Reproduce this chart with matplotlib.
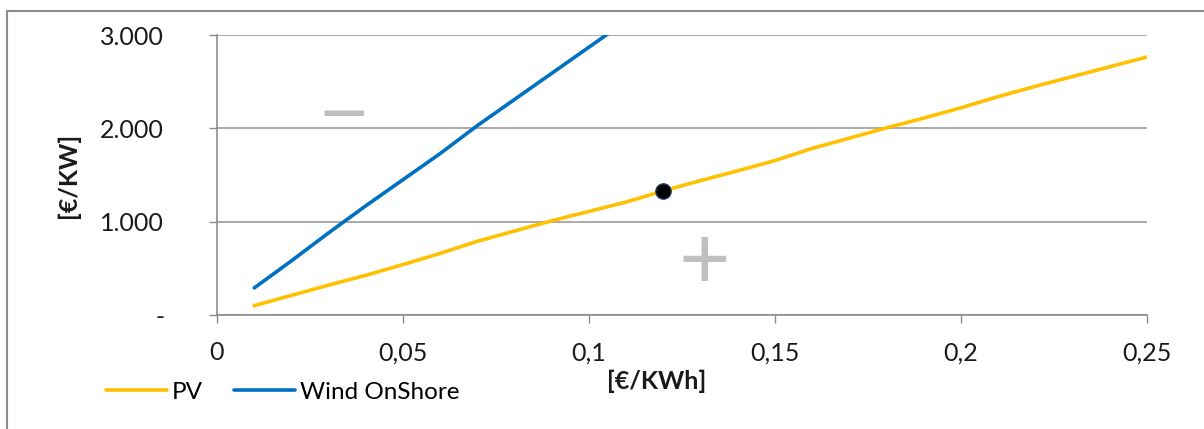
import numpy
from matplotlib import pyplot
from matplotlib.patches import Rectangle

pyplot.rcParams['font.family'] = ['Lato', 'DejaVu Sans']

# data
price = numpy.round(numpy.arange(0.01, 0.2501, 0.01), 2)
pv = [100, 210, 320, 425, 540, 660, 790, 900, 1010, 1110, 1210, 1330, 1440,
      1545, 1655, 1785, 1895, 2005, 2110, 2220, 2340, 2450, 2555, 2660, 2765]
windPrice = [0.01, 0.02, 0.03, 0.04, 0.05, 0.06, 0.07, 0.08, 0.09, 0.10, 0.11]
wind = [290, 580, 880, 1170, 1450, 1730, 2030, 2310, 2590, 2870, 3150]
point = (0.12, 1330)

xticks = [0, 0.05, 0.1, 0.15, 0.2, 0.25]
xticklabels = ['0', '0,05', '0,1', '0,15', '0,2', '0,25']
yticks = [0, 1000, 2000, 3000]
yticklabels = ['-', '1.000', '2.000', '3.000']

fig = pyplot.figure(figsize=(12.04, 4.29), dpi=100)

# outer chart border (top and left only visible)
fig.patches.append(Rectangle((7/1204, -0.1), 1.2, 1 - 11/429 + 0.1,
                             transform=fig.transFigure, fill=False,
                             ec='#8c8c8c', lw=1.5))

ax = fig.add_axes([217/1204, 114/429, 930/1204, 280/429])

ax.plot(price, pv, color='#FFC000', lw=2.6, label='PV', zorder=3,
        solid_capstyle='round')
ax.plot(windPrice, wind, color='#0070C0', lw=2.6, label='Wind OnShore',
        zorder=3, solid_capstyle='round')
ax.plot(*point, 'o', ms=11, mfc='black', mec='#1f3a5a', mew=1, zorder=4)

ax.text(0.034, 2150, '\u2014', color='#bfbfbf', fontsize=42,
        fontweight='bold', ha='center', va='center')
ax.text(0.131, 545, '+', color='#bfbfbf', fontsize=64,
        ha='center', va='center')

ax.set_xlim(0, 0.25)
ax.set_ylim(0, 3000)
ax.set_xticks(xticks)
ax.set_xticklabels(xticklabels)
ax.set_yticks(yticks)
ax.set_yticklabels(yticklabels)
ax.tick_params(labelsize=18, length=6, width=1, color='#8c8c8c',
               labelcolor='#1a1a1a')
ax.tick_params(axis='x', pad=13)
ax.tick_params(axis='y', pad=32)
ax.yaxis.grid(True, color='#9c9c9c', lw=1.2, zorder=0)
for side in ['top', 'right']:
    ax.spines[side].set_visible(False)
for side in ['left', 'bottom']:
    ax.spines[side].set_color('#8c8c8c')
    ax.spines[side].set_linewidth(1.2)

fig.text(68/1204, 1 - 175/429, '[\u20ac/KW]', rotation=90, fontsize=18,
         fontweight='bold', ha='center', va='center', color='#1a1a1a')
fig.text(657/1204, 1 - 381/429, '[\u20ac/KWh]', fontsize=18,
         fontweight='bold', ha='center', va='center', color='#1a1a1a')

handles, labels = ax.get_legend_handles_labels()
fig.legend(handles, labels, loc='center left', ncol=2, frameon=False,
           fontsize=17.5, bbox_to_anchor=(84/1204, 1 - 392/429),
           handlelength=2.5, handletextpad=0.2, columnspacing=1.3)

pyplot.savefig('out.png')
